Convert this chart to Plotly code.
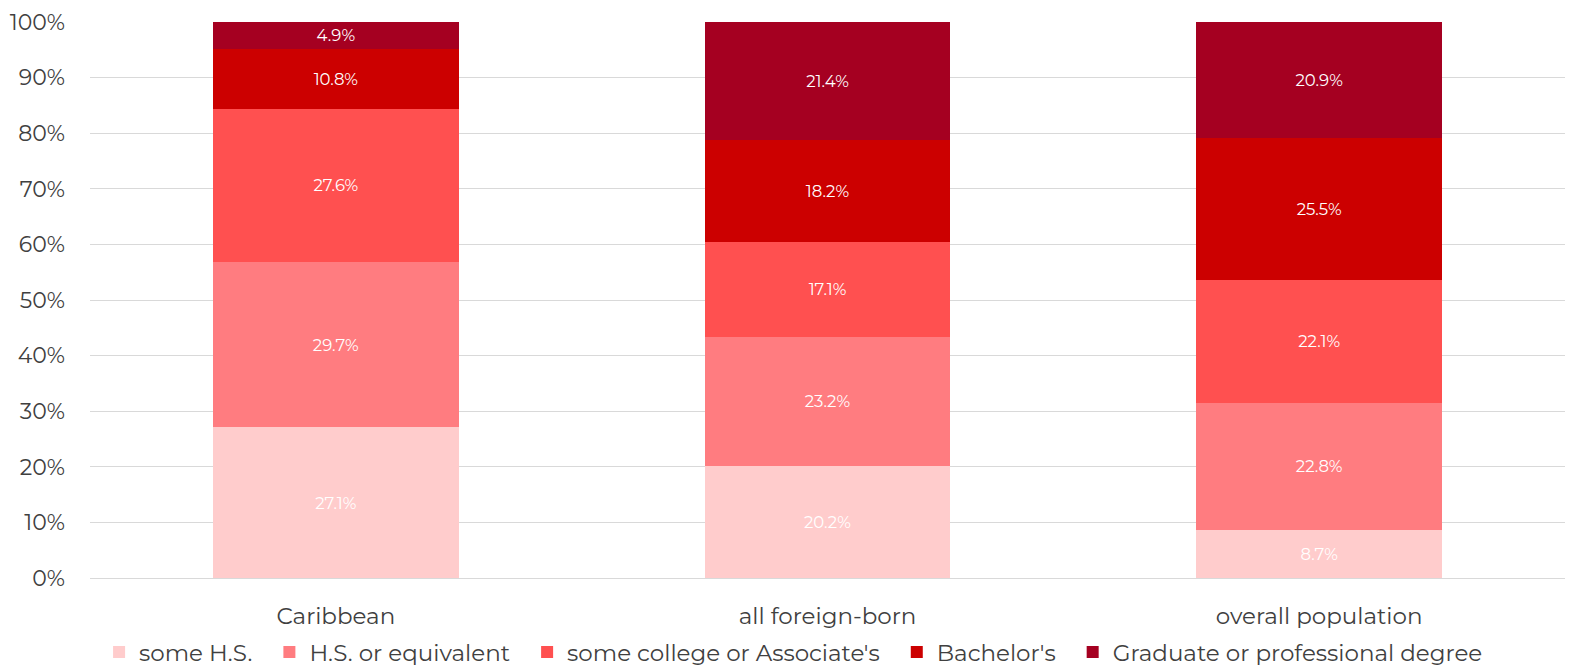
import plotly.graph_objects as go

categories = ["Caribbean", "all foreign-born", "overall population"]
series_names = ["some H.S.", "H.S. or equivalent", "some college or Associate's",
                "Bachelor's", "Graduate or professional degree"]
some_hs = [27.1, 20.2, 8.7]
hs_equiv = [29.7, 23.2, 22.8]
some_college = [27.6, 17.1, 22.1]
bachelors = [10.8, 18.2, 25.5]
graduate = [4.9, 21.4, 20.9]
colors = ["#FFCCCC", "#FF7C80", "#FF5050", "#CC0000", "#A50021"]
y_ticks = [0, 10, 20, 30, 40, 50, 60, 70, 80, 90, 100]
y_tick_labels = [f"{v}%" for v in y_ticks]

FONT = "Montserrat, 'Open Sans', sans-serif"
PAD = "\u00a0" * 2
fig = go.Figure()
for i, (name, vals, col) in enumerate(zip(series_names, [some_hs, hs_equiv, some_college, bachelors, graduate], colors)):
    fig.add_trace(go.Bar(
        x=categories, y=vals, name=name + (PAD if i < len(series_names) - 1 else ""),
        marker=dict(color=col, line=dict(width=0)),
        text=[f"{v:.1f}%" for v in vals], textposition="inside", insidetextanchor="middle",
        textangle=0, constraintext="none",
        textfont=dict(color="white", size=16.5, family=FONT),
        hoverinfo="skip",
    ))

fig.update_layout(
    barmode="stack", bargap=0.5,
    width=1572, height=669,
    margin=dict(l=90, r=7, t=22, b=91, autoexpand=False),
    plot_bgcolor="white", paper_bgcolor="white",
    font=dict(family=FONT, color="#404040"),
    legend=dict(orientation="h", x=0.477, xanchor="center", y=-0.133, yanchor="middle",
                font=dict(size=23, color="#404040", family=FONT), traceorder="normal",
                itemwidth=30),
    showlegend=True,
)
fig.update_yaxes(range=[0, 100], tickvals=y_ticks, ticktext=y_tick_labels,
                 showgrid=True, gridcolor="#D9D9D9", gridwidth=1, zeroline=False,
                 tickfont=dict(size=22, color="#404040"), ticklabelstandoff=24,
                 showline=False, automargin=False)
fig.update_xaxes(showline=True, linecolor="#D9D9D9", linewidth=1,
                 tickfont=dict(size=23, color="#404040"), ticklabelstandoff=17,
                 automargin=False)
fig.write_html("out.html", config={"displayModeBar": False},
               post_script="document.body.style.margin='0px';document.body.style.overflow='hidden';")
